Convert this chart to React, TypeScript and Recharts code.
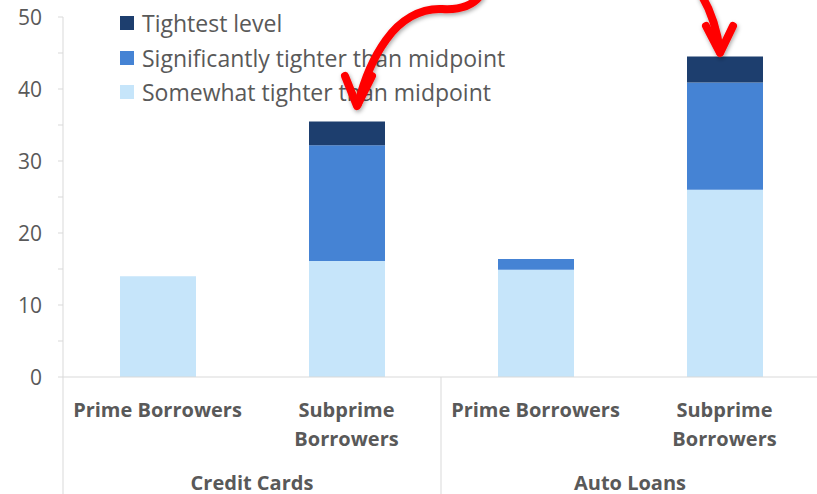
import React from "react";
import { BarChart, Bar, XAxis, YAxis, Legend } from "recharts";

const categories = ["Prime Borrowers", "Subprime Borrowers", "Prime Borrowers", "Subprime Borrowers"];
const categoryLines = [["Prime Borrowers"], ["Subprime", "Borrowers"], ["Prime Borrowers"], ["Subprime", "Borrowers"]];
const groups = ["Credit Cards", "Auto Loans"];

const somewhatTighter = [14.0, 16.1, 14.9, 26.0];
const significantlyTighter = [0, 16.1, 1.5, 14.9];
const tightestLevel = [0, 3.3, 0, 3.6];

const yTicks = [0, 5, 10, 15, 20, 25, 30, 35, 40, 45, 50];

const series = [
  { key: "somewhat", name: "Somewhat tighter than midpoint", color: "#C6E5FA" },
  { key: "significantly", name: "Significantly tighter than midpoint", color: "#4583D4" },
  { key: "tightest", name: "Tightest level", color: "#1D3E6E" },
];

const data = categories.map((c, i) => ({
  label: c,
  somewhat: somewhatTighter[i],
  significantly: significantlyTighter[i],
  tightest: tightestLevel[i],
}));

const FONT = "'Open Sans', 'Noto Sans', sans-serif";
const TEXT = "#595959";
const AXIS = "#D9D9D9";

const W = 817;
const H = 494;
const Y_AXIS_W = 63;
const X_AXIS_H = 117;
const RIGHT = -2;
const SLOT = (W - RIGHT - Y_AXIS_W) / categories.length;

function XTick(props: any) {
  const { x, y, index } = props;
  const lines = categoryLines[index] || [];
  return (
    <g>
      {lines.map((t, i) => (
        <text
          key={i}
          x={x}
          y={y + 32 + i * 29}
          textAnchor="middle"
          dominantBaseline="central"
          fontFamily={FONT}
          fontWeight={700}
          fontSize={20}
          fill={TEXT}
        >
          {t}
        </text>
      ))}
      {index % 2 === 0 && (
        <>
          <line x1={x - SLOT / 2} x2={x - SLOT / 2} y1={y} y2={H} stroke={AXIS} />
          <text
            x={x + SLOT / 2}
            y={y + 105}
            textAnchor="middle"
            dominantBaseline="central"
            fontFamily={FONT}
            fontWeight={700}
            fontSize={20}
            fill={TEXT}
          >
            {groups[index / 2]}
          </text>
        </>
      )}
    </g>
  );
}

function YTick(props: any) {
  const { x, y, payload } = props;
  if (payload.value % 10 !== 0) return <g />;
  return (
    <text x={x} y={y} textAnchor="end" dominantBaseline="central" fontFamily={FONT} fontSize={21} fill={TEXT}>
      {payload.value}
    </text>
  );
}

const renderLegend = () => (
  <div style={{ fontFamily: FONT, fontSize: 23, color: TEXT, lineHeight: "34px" }}>
    {[...series].reverse().map((s) => (
      <div key={s.key} style={{ display: "flex", alignItems: "center", height: 34.5 }}>
        <span style={{ width: 14, height: 14, background: s.color, marginRight: 8, display: "inline-block" }} />
        <span>{s.name}</span>
      </div>
    ))}
  </div>
);

export default function App() {
  return (
    <div style={{ position: "absolute", left: 0, top: 0, width: W, height: H, background: "#fff" }}>
      <BarChart width={W} height={H} data={data} margin={{ top: 17, right: RIGHT, bottom: 0, left: 0 }}>
        <XAxis
          dataKey="label"
          allowDuplicatedCategory
          height={X_AXIS_H}
          tickLine={false}
          tickSize={0}
          tickMargin={0}
          axisLine={{ stroke: AXIS }}
          tick={<XTick />}
          interval={0}
        />
        <YAxis
          width={Y_AXIS_W}
          domain={[0, 50]}
          ticks={yTicks}
          interval={0}
          tickSize={5}
          tickMargin={16}
          tickLine={{ stroke: AXIS }}
          axisLine={{ stroke: AXIS }}
          tick={<YTick />}
        />
        <Legend
          layout="horizontal"
          verticalAlign="middle"
          align="center"
          content={renderLegend}
          wrapperStyle={{ top: 6, left: 120, width: 440 }}
        />
        {series.map((s) => (
          <Bar key={s.key} dataKey={s.key} name={s.name} stackId="a" fill={s.color} barSize={76} isAnimationActive={false} />
        ))}
      </BarChart>
      <svg width={W} height={H} style={{ position: "absolute", left: 0, top: 0, pointerEvents: "none" }}>
        <defs>
          <filter id="shadow" x="-20%" y="-20%" width="140%" height="140%">
            <feDropShadow dx="1" dy="2" stdDeviation="2" floodColor="#000" floodOpacity="0.35" />
          </filter>
        </defs>
        <g fill="none" stroke="#FF0000" strokeWidth={8} strokeLinecap="round" strokeLinejoin="round" filter="url(#shadow)">
          <path d="M 480 -4 C 472 6, 458 10, 442 9 C 420 8, 400 20, 386 40 C 373 58, 364 80, 358 104" />
          <path d="M 345 76 L 357 106 L 372 76" />
          <path d="M 702 -4 Q 716 20 720 52" />
          <path d="M 706 26 L 720 53 L 733 26" />
        </g>
      </svg>
    </div>
  );
}
